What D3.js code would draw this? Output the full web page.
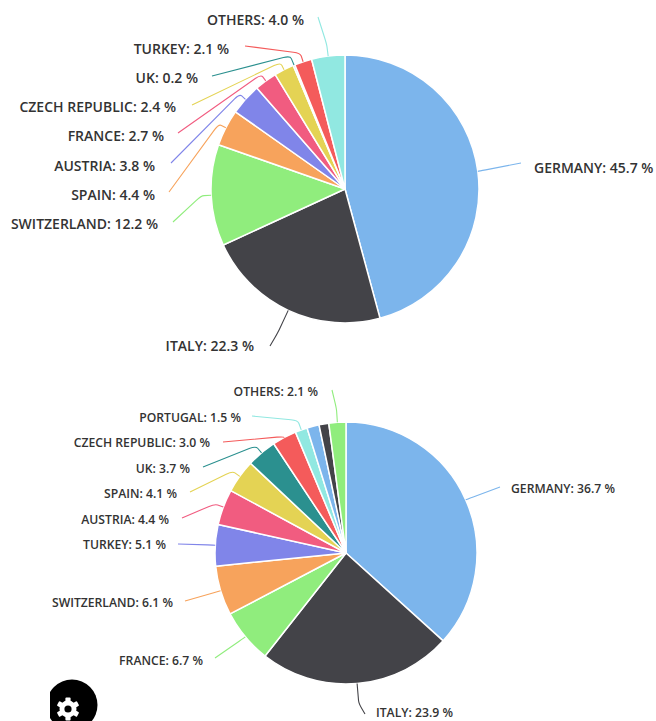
<!DOCTYPE html>
<html>
<head>
<meta charset="utf-8">
<style>
  html, body { margin: 0; padding: 0; background: #fff; overflow: hidden; }
  svg { display: block; }
  text { font-family: "Open Sans", sans-serif; font-weight: 600; fill: #333; }
</style>
<script src="https://cdnjs.cloudflare.com/ajax/libs/d3/7.9.0/d3.min.js"></script>
</head>
<body>
<script>
// Shared slice palette, cycled in slice order
const palette = ["#7cb5ec", "#434348", "#90ed7d", "#f7a35c", "#8085e9",
                 "#f15c80", "#e4d354", "#2b908f", "#f45b5b", "#91e8e1"];

// Upper pie
const upperCountries = ["GERMANY", "ITALY", "SWITZERLAND", "SPAIN", "AUSTRIA",
                        "FRANCE", "CZECH REPUBLIC", "UK", "TURKEY", "OTHERS"];
const upperShares = [45.7, 22.3, 12.2, 4.4, 3.8, 2.7, 2.4, 0.2, 2.1, 4.0];

// Lower pie; two thin slices carry no label
const lowerCountries = ["GERMANY", "ITALY", "FRANCE", "SWITZERLAND", "TURKEY", "AUSTRIA",
                        "SPAIN", "UK", "CZECH REPUBLIC", "PORTUGAL", "", "", "OTHERS"];
const lowerShares = [36.7, 23.9, 6.7, 6.1, 5.1, 4.4, 4.1, 3.7, 3.0, 1.5, 1.5, 1.2, 2.1];

// Label placement per slice: side, text edge x, baseline y, leader end x/y, radial run
const upperLabels = [
  ["start", 534, 173, 521, 163, 1],
  ["end", 254, 351, 270, 346, 24],
  ["end", 158, 229, 173, 222, 10],
  ["end", 155, 200, 169, 192, 8],
  ["end", 155, 171, 171, 163, 8],
  ["end", 164, 141, 178, 133, 8],
  ["end", 176, 112, 192, 105, 8],
  ["end", 198, 83, 212, 76, 10],
  ["end", 229, 54, 245, 46, 9],
  ["end", 304, 25, 318, 17, 12]
];
const lowerLabels = [
  ["start", 511, 493, 500, 487, 1],
  ["start", 376, 717, 365, 714, 20],
  ["end", 203, 665, 215, 658, 1],
  ["end", 173, 607, 185, 601, 1],
  ["end", 166, 549, 178, 544, 1],
  ["end", 169, 524, 182, 518, 9],
  ["end", 177, 498, 190, 492, 9],
  ["end", 190, 473, 203, 467, 9],
  ["end", 210, 447, 223, 442, 1],
  ["end", 241, 422, 252, 416, 10],
  null,
  null,
  ["end", 318, 396, 332, 390, 14]
];

const svg = d3.select("body").append("svg").attr("width", 656).attr("height", 721);

function drawPie(cx, cy, radius, fontSize, countries, shares, labels) {
  const slices = d3.pie().sort(null).startAngle(0).endAngle(2 * Math.PI)(shares);
  const arc = d3.arc().innerRadius(0).outerRadius(radius);
  const colour = d3.scaleOrdinal().domain(d3.range(palette.length)).range(palette);
  const g = svg.append("g").attr("transform", `translate(${cx},${cy})`);

  g.selectAll("path.slice").data(slices).join("path")
    .attr("class", "slice")
    .attr("d", arc)
    .attr("fill", (d, i) => colour(i % palette.length))
    .attr("stroke", "#fff")
    .attr("stroke-width", 1.5)
    .attr("stroke-linejoin", "round");

  slices.forEach((s, i) => {
    const lab = labels[i];
    if (!lab) return;
    const [anchor, tx, ty, ex, ey, run] = lab;
    const mid = (s.startAngle + s.endAngle) / 2;
    const ux = Math.sin(mid), uy = -Math.cos(mid);
    const sx = ux * radius, sy = uy * radius;
    const bx = ux * (radius + run), by = uy * (radius + run);
    const tox = ex - cx, toy = ey - cy;
    const len = Math.hypot(tox - bx, toy - by);
    const k = Math.min(7, len / 2) / len;

    // Radial run out of the slice, a rounded bend, then straight to the label
    const p = d3.path();
    p.moveTo(sx, sy);
    p.lineTo(bx - ux * Math.min(run, 3), by - uy * Math.min(run, 3));
    p.quadraticCurveTo(bx, by, bx + (tox - bx) * k, by + (toy - by) * k);
    p.lineTo(tox, toy);

    g.append("path")
      .attr("d", p.toString())
      .attr("fill", "none")
      .attr("stroke", colour(i % palette.length))
      .attr("stroke-width", 1.1);

    svg.append("text")
      .attr("x", tx).attr("y", ty)
      .attr("text-anchor", anchor)
      .attr("font-size", fontSize)
      .text(`${countries[i]}: ${shares[i].toFixed(1)} %`);
  });
}

drawPie(345, 189, 134, 14, upperCountries, upperShares, upperLabels);
drawPie(346, 553, 131, 12.2, lowerCountries, lowerShares, lowerLabels);

// Settings button in the lower-left corner, clipped by its container
const clip = svg.append("clipPath").attr("id", "buttonClip");
clip.append("rect").attr("x", 50).attr("y", 660).attr("width", 80).attr("height", 61);
const button = svg.append("g").attr("clip-path", "url(#buttonClip)");
button.append("circle").attr("cx", 72).attr("cy", 705).attr("r", 25.5).attr("fill", "#000");

const gearTeeth = d3.range(6);
const gear = button.append("g").attr("transform", "translate(68,709)");
gear.append("circle").attr("r", 8.5).attr("fill", "#fff");
gear.selectAll("rect").data(gearTeeth).join("rect")
  .attr("x", -2.6).attr("y", -11.5).attr("width", 5.2).attr("height", 6).attr("rx", 1)
  .attr("fill", "#fff")
  .attr("transform", d => `rotate(${d * 60})`);
gear.append("circle").attr("r", 3.6).attr("fill", "#000");
</script>
</body>
</html>
